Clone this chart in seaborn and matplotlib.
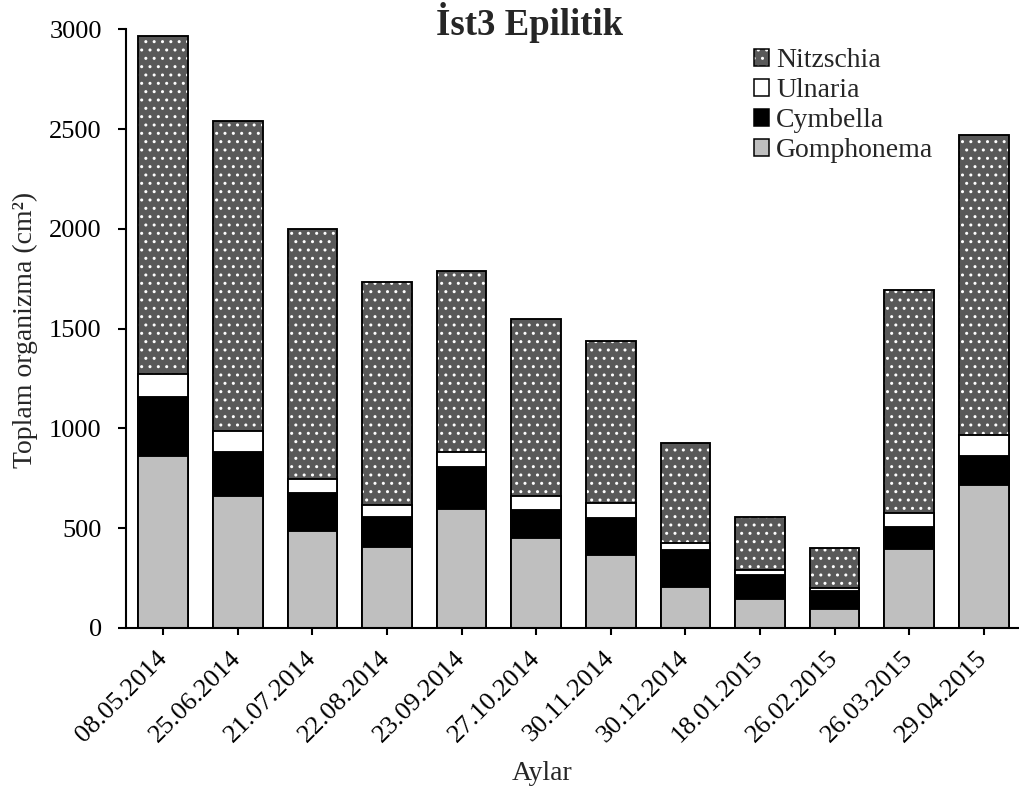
import numpy as np
import pandas as pd
import matplotlib
matplotlib.use("Agg")
import matplotlib.pyplot as plt
from matplotlib.patches import Patch
from matplotlib.colors import to_rgba
import seaborn as sns

# Sampling dates (x categories)
dates = ["08.05.2014", "25.06.2014", "21.07.2014", "22.08.2014", "23.09.2014",
         "27.10.2014", "30.11.2014", "30.12.2014", "18.01.2015", "26.02.2015",
         "26.03.2015", "29.04.2015"]

# Organism counts per genus (stack order bottom -> top)
gomphonema = [860, 662, 484, 407, 594, 451, 367, 204, 144, 97, 397, 716]
cymbella   = [298, 222, 194, 150, 212, 140, 185, 187, 121, 90, 110, 147]
ulnaria    = [117, 103, 67, 60, 76, 71, 75, 36, 24, 12, 70, 105]
nitzschia  = [1690, 1551, 1253, 1115, 905, 887, 810, 498, 268, 200, 1117, 1504]

yticks = [0, 500, 1000, 1500, 2000, 2500, 3000]

df = pd.DataFrame({"Tarih": dates, "Gomphonema": gomphonema, "Cymbella": cymbella,
                   "Ulnaria": ulnaria, "Nitzschia": nitzschia})
df["c_g"] = df["Gomphonema"]
df["c_c"] = df["c_g"] + df["Cymbella"]
df["c_u"] = df["c_c"] + df["Ulnaria"]
df["c_n"] = df["c_u"] + df["Nitzschia"]

sns.set_style("ticks")
plt.rcParams["font.family"] = ["Liberation Serif", "DejaVu Serif"]
plt.rcParams["hatch.linewidth"] = 1.0

W, H = 1019, 790
fig = plt.figure(figsize=(W / 100, H / 100), dpi=100)
ax = fig.add_axes([126 / W, 1 - 628 / H, (1021 - 126) / W, (628 - 29.3) / H])

dark = "#595959"
layers = [("c_n", dark, "..", "Nitzschia"),
          ("c_u", "white", None, "Ulnaria"),
          ("c_c", "black", None, "Cymbella"),
          ("c_g", "#BFBFBF", None, "Gomphonema")]

# Cumulative totals drawn tallest first so each lower stack covers the one above
for col, fc, hatch, _ in layers:
    kw = dict(hatch=hatch) if hatch else {}
    sns.barplot(data=df, x="Tarih", y=col, order=dates, color=fc, saturation=1,
                width=0.666, edgecolor="black", linewidth=1.35, ax=ax, **kw)


def white_hatch(p):
    try:
        p.set_hatchcolor("white")
    except AttributeError:
        p._hatch_color = to_rgba("white")


for p in ax.containers[0]:
    white_hatch(p)

ax.set_ylim(0, 3000)
ax.set_yticks(yticks)
ax.set_xlim(-0.5, len(dates) - 0.5)
ax.set_xlabel("")
ax.set_ylabel("")
sns.despine(ax=ax)
for s in ("left", "bottom"):
    ax.spines[s].set_linewidth(1.5)
    ax.spines[s].set_color("black")

ax.tick_params(axis="y", length=5.5, width=1.5, pad=12, labelsize=19, colors="black")
ax.tick_params(axis="x", length=5, width=1.5, pad=14, labelsize=19, colors="black")
for lab in ax.get_xticklabels():
    lab.set_rotation(45)
    lab.set_ha("right")
    lab.set_va("center")
    lab.set_rotation_mode("anchor")

fig.text(530 / W, 1 - 35 / H, "İst3 Epilitik", ha="center", va="baseline",
         fontsize=26.5, fontweight="bold")
fig.text(25 / W, 1 - 330 / H, "Toplam organizma (cm²)", rotation=90,
         ha="center", va="center", fontsize=20)
fig.text(542 / W, 1 - 780 / H, "Aylar", ha="center", va="baseline", fontsize=20)

handles = []
for _, fc, hatch, name in layers:
    h = Patch(facecolor=fc, edgecolor="black", linewidth=1.1, hatch=hatch, label=name)
    if hatch:
        white_hatch(h)
    handles.append(h)

fig.legend(handles=handles, loc="upper left", bbox_to_anchor=(754 / W, 1 - 48 / H),
           frameon=False, fontsize=20, handlelength=0.55, handleheight=0.55,
           handletextpad=0.25, labelspacing=0.18, borderpad=0, borderaxespad=0)

fig.savefig("out.png", dpi=100)
